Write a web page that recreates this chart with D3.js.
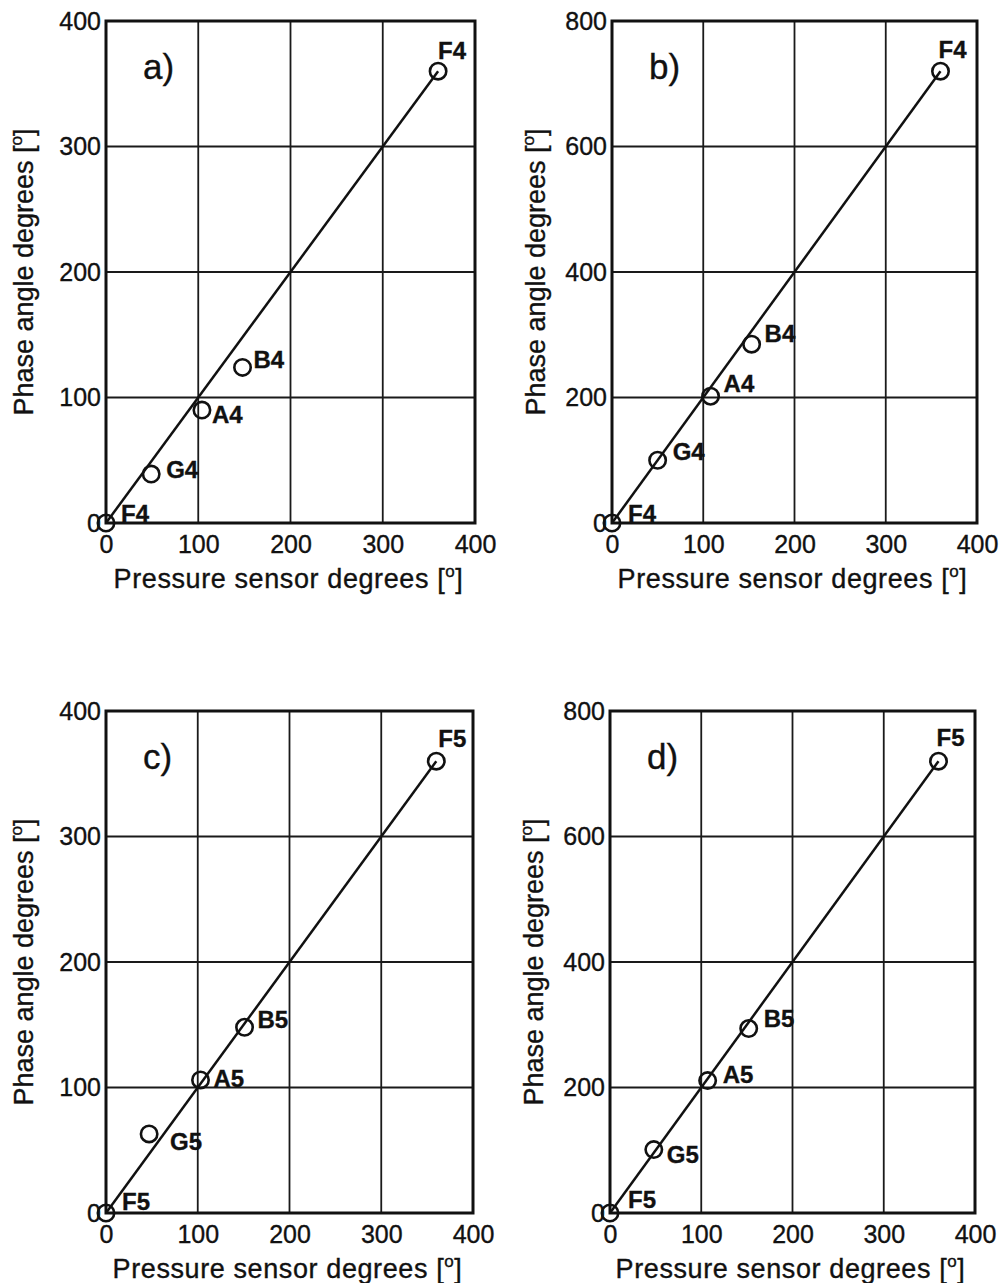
<!DOCTYPE html>
<html>
<head>
<meta charset="utf-8">
<script src="https://cdn.jsdelivr.net/npm/d3@7/dist/d3.min.js"></script>
<style>
  html, body { margin: 0; padding: 0; background: #fff; }
  svg { display: block; }
  text { font-family: "Liberation Sans", Arial, Helvetica, sans-serif; fill: #111; stroke: #111; stroke-width: 0.35px; }
</style>
</head>
<body>
<svg id="chart" width="1005" height="1283"></svg>
<script>
// Tick values
const pressureTicks = [0, 100, 200, 300, 400];
const phaseTicksSingle = [0, 100, 200, 300, 400];
const phaseTicksDouble = [0, 200, 400, 600, 800];

// Note names for each measured point
const notesOct4 = ["F4", "G4", "A4", "B4", "F4"];
const notesOct5 = ["F5", "G5", "A5", "B5", "F5"];

// Measured points: pressure sensor degrees vs phase angle degrees
const pressureA = [0, 49, 104, 148, 360];
const phaseA    = [0, 39, 90, 124, 360];
const pressureB = [0, 50, 108, 153, 360];
const phaseB    = [0, 100, 202, 285, 720];
const pressureC = [0, 47, 103, 151, 360];
const phaseC    = [0, 63, 106, 148, 360];
const pressureD = [0, 48, 107, 152, 360];
const phaseD    = [0, 101, 211, 294, 720];

// Reference lines through the octave end points
const refPressure = [0, 360];
const refPhaseSingle = [0, 360];
const refPhaseDouble = [0, 720];

// Panel layout (frame boxes in page pixels) and note-label nudges
const panels = [
  { tag: "a)", box: [106, 21, 475, 523], x: pressureA, y: phaseA, notes: notesOct4,
    yMax: 400, yTicks: phaseTicksSingle, refY: refPhaseSingle, yLabelX: 33,
    nudge: [[15, -1], [15, 4], [10, 13], [11, 1], [0, -12]] },
  { tag: "b)", box: [612, 21, 977, 523], x: pressureB, y: phaseB, notes: notesOct4,
    yMax: 800, yTicks: phaseTicksDouble, refY: refPhaseDouble, yLabelX: 545,
    nudge: [[16, -1], [15, 0], [13, -4], [13, -2], [-2, -13]] },
  { tag: "c)", box: [106, 711, 473, 1213], x: pressureC, y: phaseC, notes: notesOct5,
    yMax: 400, yTicks: phaseTicksSingle, refY: refPhaseSingle, yLabelX: 33,
    nudge: [[16, -3], [21, 16], [13, 7], [13, 1], [2, -14]] },
  { tag: "d)", box: [610, 711, 975, 1213], x: pressureD, y: phaseD, notes: notesOct5,
    yMax: 800, yTicks: phaseTicksDouble, refY: refPhaseDouble, yLabelX: 543,
    nudge: [[18, -5], [13, 13], [15, 2], [15, -2], [-2, -15]] }
];

const svg = d3.select("#chart");
svg.append("rect").attr("width", 1005).attr("height", 1283).attr("fill", "#fff");

panels.forEach(p => {
  const [x0, y0, x1, y1] = p.box;
  const xs = d3.scaleLinear().domain([0, 400]).range([x0, x1]);
  const ys = d3.scaleLinear().domain([0, p.yMax]).range([y1, y0]);
  const g = svg.append("g");

  // grid
  g.append("g").selectAll("line").data(pressureTicks.slice(1, -1)).join("line")
    .attr("x1", d => xs(d)).attr("x2", d => xs(d)).attr("y1", y0).attr("y2", y1)
    .attr("stroke", "#1a1a1a").attr("stroke-width", 1.8);
  g.append("g").selectAll("line").data(p.yTicks.slice(1, -1)).join("line")
    .attr("y1", d => ys(d)).attr("y2", d => ys(d)).attr("x1", x0).attr("x2", x1)
    .attr("stroke", "#1a1a1a").attr("stroke-width", 1.8);

  // axes (labels only)
  const ax = g.append("g").attr("transform", `translate(0,${y1})`)
    .call(d3.axisBottom(xs).tickValues(pressureTicks).tickSize(0).tickPadding(12));
  ax.select(".domain").remove();
  ax.selectAll("text").attr("font-size", 25).attr("fill", "#111")
    .attr("font-family", "'Liberation Sans', Arial, sans-serif");

  const ay = g.append("g").attr("transform", `translate(${x0},0)`)
    .call(d3.axisLeft(ys).tickValues(p.yTicks).tickSize(0).tickPadding(5));
  ay.select(".domain").remove();
  ay.selectAll("text").attr("font-size", 25).attr("fill", "#111")
    .attr("font-family", "'Liberation Sans', Arial, sans-serif");

  // frame
  g.append("rect").attr("x", x0).attr("y", y0).attr("width", x1 - x0).attr("height", y1 - y0)
    .attr("fill", "none").attr("stroke", "#111").attr("stroke-width", 3);

  // reference line
  const line = d3.line().x(d => xs(d[0])).y(d => ys(d[1]));
  g.append("path").datum(refPressure.map((v, i) => [v, p.refY[i]]))
    .attr("d", line).attr("fill", "none").attr("stroke", "#111").attr("stroke-width", 2.5);

  // measured points
  const pts = p.x.map((v, i) => ({ x: v, y: p.y[i], note: p.notes[i], nudge: p.nudge[i] }));
  g.append("g").selectAll("circle").data(pts).join("circle")
    .attr("cx", d => xs(d.x)).attr("cy", d => ys(d.y)).attr("r", 8.2)
    .attr("fill", "none").attr("stroke", "#111").attr("stroke-width", 2.6);
  g.append("g").selectAll("text").data(pts).join("text")
    .attr("x", d => xs(d.x) + d.nudge[0]).attr("y", d => ys(d.y) + d.nudge[1])
    .attr("font-size", 24).attr("font-weight", "bold").text(d => d.note);

  // panel tag
  g.append("text").attr("x", x0 + 37).attr("y", y0 + 58)
    .attr("font-size", 35).text(p.tag);

  // x axis title
  const xt = g.append("text").attr("x", (x0 + x1) / 2 - 2).attr("y", y1 + 65)
    .attr("text-anchor", "middle").attr("font-size", 27).attr("letter-spacing", 0.6);
  xt.append("tspan").text("Pressure sensor degrees [");
  xt.append("tspan").attr("font-size", 17).attr("dy", -11).text("o");
  xt.append("tspan").attr("dy", 11).text("]");

  // y axis title
  const yt = g.append("text")
    .attr("transform", `translate(${p.yLabelX},${(y0 + y1) / 2}) rotate(-90)`)
    .attr("text-anchor", "middle").attr("font-size", 27);
  yt.append("tspan").text("Phase angle degrees [");
  yt.append("tspan").attr("font-size", 17).attr("dy", -11).text("o");
  yt.append("tspan").attr("dy", 11).text("]");
});
</script>
</body>
</html>
